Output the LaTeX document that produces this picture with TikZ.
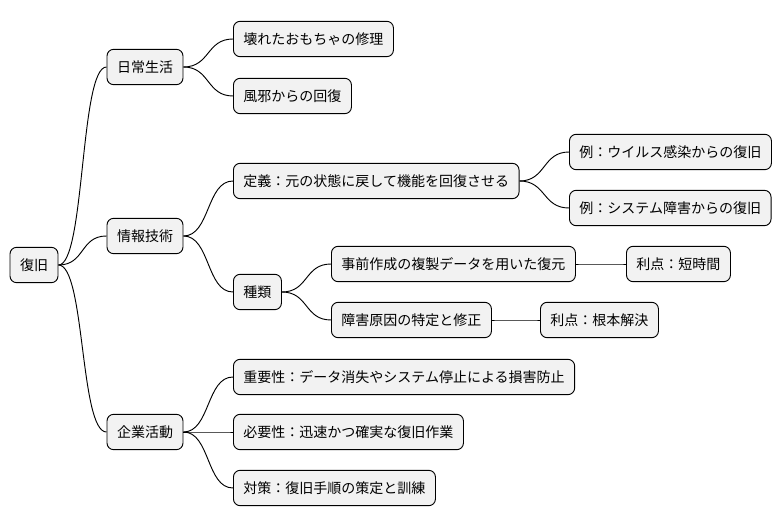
\documentclass[tikz,border=0pt]{standalone}
\usepackage{fontspec}
\setmainfont{Noto Sans CJK JP}
\usetikzlibrary{positioning}
\tikzset{
  topic/.style = {rectangle, draw, fill=gray!10, rounded corners=5pt, line width=0.7pt,
                  inner xsep=7.5pt, minimum height=26.5pt, font=\fontsize{10.5}{12}\selectfont},
  link/.style  = {draw, line width=0.7pt}
}
\newcommand{\branch}[2]{\draw [link] (#1.east) .. controls +(20pt,0) and +(-20pt,0) .. (#2.west);}
\begin{document}
\begin{tikzpicture}[x=0.75pt, y=-0.75pt]
    \useasboundingbox (0,0) rectangle (782,527);
    \node (root) [topic] at (34,265) {復旧};

    % Daily life
    \node (daily) [topic] at (145,67) {日常生活};
    \node (toy) [topic, anchor=west] at (233,39) {壊れたおもちゃの修理};
    \node (cold) [topic, anchor=west] at (233,96) {風邪からの回復};

    % IT
    \node (it) [topic] at (145,236) {情報技術};
    \node (defn) [topic, anchor=west] at (233,181) {定義：元の状態に戻して機能を回復させる};
    \node (virus) [topic, anchor=west] at (569,152) {例：ウイルス感染からの復旧};
    \node (fault) [topic, anchor=west] at (569,208) {例：システム障害からの復旧};
    \node (kinds) [topic, anchor=west] at (233,292) {種類};
    \node (backup) [topic, anchor=west] at (331,264) {事前作成の複製データを用いた復元};
    \node (fast) [topic, anchor=west] at (626,264) {利点：短時間};
    \node (cause) [topic, anchor=west] at (331,320) {障害原因の特定と修正};
    \node (root2) [topic, anchor=west] at (540,320) {利点：根本解決};

    % Business
    \node (biz) [topic] at (145,432) {企業活動};
    \node (imp) [topic, anchor=west] at (233,377) {重要性：データ消失やシステム停止による損害防止};
    \node (need) [topic, anchor=west] at (233,432) {必要性：迅速かつ確実な復旧作業};
    \node (plan) [topic, anchor=west] at (233,488) {対策：復旧手順の策定と訓練};

    \branch{root}{daily}
    \branch{root}{it}
    \branch{root}{biz}
    \branch{daily}{toy}
    \branch{daily}{cold}
    \branch{it}{defn}
    \branch{it}{kinds}
    \branch{defn}{virus}
    \branch{defn}{fault}
    \branch{kinds}{backup}
    \branch{kinds}{cause}
    \branch{backup}{fast}
    \branch{cause}{root2}
    \branch{biz}{imp}
    \branch{biz}{need}
    \branch{biz}{plan}
\end{tikzpicture}
\end{document}
